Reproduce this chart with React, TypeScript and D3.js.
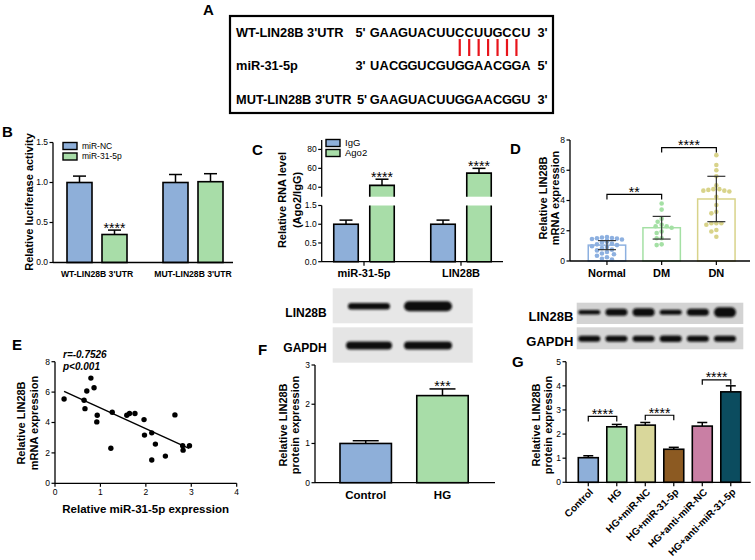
import React from 'react';
import * as d3 from 'd3';

const FONT = '"Liberation Sans", Arial, Helvetica, sans-serif';

// ---------- Panel A ----------
const aRowLabels = ["WT-LIN28B 3'UTR", 'miR-31-5p', "MUT-LIN28B 3'UTR"];
const aPrimeLeft = ["5'", "3'", "5'"];
const aPrimeRight = ["3'", "5'", "3'"];
const aSeqs = ['GAAGUACUUCCUUGCCU', 'UACGGUCGUGGAACGGA', 'GAAGUACUUGGAACGGU'];
const aPairIdx = [9, 10, 11, 12, 13, 14, 15];

// ---------- Panel B ----------
const bGroups = ["WT-LIN28B 3'UTR", "MUT-LIN28B 3'UTR"];
const bSeries = ['miR-NC', 'miR-31-5p'];
const bValues = [[1.0, 0.35], [1.0, 1.01]];
const bErrors = [[0.08, 0.055], [0.1, 0.1]];
const bSig = [['', '****'], ['', '']];
const bTicks = [0, 0.5, 1.0, 1.5];

// ---------- Panel C ----------
const cGroups = ['miR-31-5p', 'LIN28B'];
const cSeries = ['IgG', 'Ago2'];
const cValues = [[1.0, 42], [1.0, 55]];
const cErrors = [[0.11, 6.5], [0.11, 5]];
const cSig = [['', '****'], ['', '****']];
const cLowTicks = [0, 0.5, 1.0, 1.5];
const cHighTicks = [40, 60, 80];

// ---------- Panel D ----------
const dCategories = ['Normal', 'DM', 'DN'];
const dMeans = [1.05, 2.2, 4.1];
const dSD = [0.3, 0.75, 1.5];
const dNormal = [1.58, 1.55, 1.52, 1.5, 1.48, 1.45, 1.42, 1.35, 1.3, 1.28, 1.22, 1.15, 1.1, 1.05, 0.98, 0.92, 0.85, 0.75, 0.7, 0.6, 0.5, 0.45, 0.35, 0.25, 0.15, 0.1];
const dDM = [3.8, 3.4, 2.8, 2.6, 2.4, 2.3, 2.3, 2.2, 1.95, 1.85, 1.5, 1.5, 1.1, 1.05];
const dDN = [7.0, 6.35, 6.0, 5.6, 5.0, 4.75, 4.7, 4.65, 4.75, 4.65, 4.6, 4.25, 3.7, 3.25, 3.15, 2.5, 2.5, 2.4, 2.5, 1.95, 2.05, 1.6];
const dTicks = [0, 2, 4, 6, 8];
const dBrackets = [{ a: 0, b: 1, y: 4.4, label: '**' }, { a: 1, b: 2, y: 7.5, label: '****' }];

// ---------- Panel E ----------
const eX = [0.2, 0.64, 0.66, 0.7, 0.79, 0.86, 0.93, 0.92, 1.26, 1.23, 1.58, 1.64, 1.76, 1.96, 1.97, 2.13, 2.21, 2.13, 2.43, 2.64, 2.81, 2.82, 2.96];
const eY = [5.55, 5.46, 4.91, 6.07, 6.92, 6.29, 4.48, 4.04, 4.67, 2.31, 4.48, 4.59, 4.59, 4.19, 3.17, 3.32, 2.58, 1.53, 1.79, 4.5, 2.47, 2.18, 2.47];
const eFitX = [0.2, 2.95];
const eFitY = [6.05, 2.3];
const eXTicks = [0, 1, 2, 3, 4];
const eYTicks = [0, 2, 4, 6, 8];

// ---------- Panel F ----------
const fCategories = ['Control', 'HG'];
const fValues = [1.0, 2.22];
const fErrors = [0.07, 0.17];
const fSig = ['', '***'];
const fTicks = [0, 1, 2, 3];
const fBlotLanes = ['Control', 'HG'];
const fLinBand = [6.5, 10];
const fGapdhBand = [8, 8];

// ---------- Panel G ----------
const gCategories = ['Control', 'HG', 'HG+miR-NC', 'HG+miR-31-5p', 'HG+anti-miR-NC', 'HG+anti-miR-31-5p'];
const gValues = [1.02, 2.3, 2.37, 1.37, 2.33, 3.75];
const gErrors = [0.08, 0.1, 0.11, 0.08, 0.15, 0.25];
const gColors = ['#8EAFD9', '#A8DDA8', '#D9D79B', '#8C5A22', '#C97FA4', '#0B4C5F'];
const gTicks = [0, 1, 2, 3, 4, 5];
const gBrackets = [{ a: 0, b: 1, y: 2.73, label: '****' }, { a: 2, b: 3, y: 2.78, label: '****' }, { a: 4, b: 5, y: 4.25, label: '****' }];
const gLinBand = [4.5, 7, 8, 5, 7, 10];
const gGapdhBand = [6, 6, 6, 6.5, 6, 6];

const BLUE = '#8EAFD9';
const GREEN = '#A8DDA8';
const dColors = ['#8DB0E0', '#A4E0A4', '#D8D38A'];

function YAxis({ scale, ticks, x, fmt, from, to, fs = 8.5 }: any) {
  const r = scale.range();
  return (
    <g>
      <line x1={x} x2={x} y1={from ?? r[0]} y2={to ?? r[1]} stroke="#000" strokeWidth={1.3} />
      {ticks.map((t: number) => (
        <g key={t}>
          <line x1={x - 3.5} x2={x} y1={scale(t)} y2={scale(t)} stroke="#000" strokeWidth={1.2} />
          <text x={x - 5} y={scale(t)} dy="0.35em" textAnchor="end" fontSize={fs}>
            {fmt ? fmt(t) : t}
          </text>
        </g>
      ))}
    </g>
  );
}

function RotText({ x, y, text, fs = 11 }: any) {
  return (
    <text transform={`translate(${x},${y}) rotate(-90)`} textAnchor="middle" dy="0.35em" fontSize={fs} fontWeight="bold">
      {text}
    </text>
  );
}

function ErrBar({ x, y0, y1, w }: any) {
  return (
    <g stroke="#000" strokeWidth={1.5}>
      <line x1={x} x2={x} y1={y0} y2={y1} />
      <line x1={x - w / 2} x2={x + w / 2} y1={y1} y2={y1} />
    </g>
  );
}

function Stars({ x, y, text }: any) {
  return (
    <text x={x} y={y + 2.5} textAnchor="middle" fontSize={14}>
      {text}
    </text>
  );
}

function beeswarm(values: number[], y: (v: number) => number, r: number, half: number) {
  const placed: { x: number; y: number }[] = [];
  const out: { x: number; y: number }[] = new Array(values.length);
  const order = values.map((_, i) => i).sort((a, b) => values[b] - values[a]);
  for (const i of order) {
    const yy = y(values[i]);
    let chosen = 0;
    let found = false;
    for (let k = 0; k <= half * 2; k++) {
      const off = (k % 2 === 0 ? 1 : -1) * Math.ceil(k / 2);
      if (Math.abs(off) > half) break;
      const ok = placed.every(p => Math.hypot(p.x - off, p.y - yy) >= 2 * r + 0.2);
      if (ok) {
        chosen = off;
        found = true;
        break;
      }
    }
    if (!found) chosen = 0;
    const pt = { x: chosen, y: yy };
    placed.push(pt);
    out[i] = pt;
  }
  return out;
}

function PanelA() {
  const nt = d3.scaleLinear().domain([0, 17]).range([370, 530.6]);
  const rowY = [36.5, 70, 104];
  return (
    <g fontWeight="bold" fontSize={12.8}>
      <text x={203} y={15} fontSize={15}>A</text>
      <rect x={230} y={16} width={323} height={97} fill="none" stroke="#000" strokeWidth={2.2} />
      {aRowLabels.map((lab, r) => (
        <g key={lab}>
          <text x={236} y={rowY[r]}>{lab}</text>
          <text x={r === 2 ? 357 : 355.5} y={rowY[r]}>{aPrimeLeft[r]}</text>
          {aSeqs[r].split('').map((c, i) => (
            <text key={i} x={nt(i + 0.5)} y={rowY[r]} textAnchor="middle">{c}</text>
          ))}
          <text x={537.5} y={rowY[r]}>{aPrimeRight[r]}</text>
        </g>
      ))}
      {aPairIdx.map(i => (
        <line key={i} x1={nt(i + 0.5)} x2={nt(i + 0.5)} y1={39} y2={56} stroke="#E8141B" strokeWidth={2.2} />
      ))}
    </g>
  );
}

function PanelB() {
  const y = d3.scaleLinear().domain([0, 1.5]).range([262.5, 142.5]);
  const g = d3.scalePoint<string>().domain(bGroups).range([97, 193]);
  const s = d3.scaleBand<string>().domain(bSeries).range([-35, 35]).paddingInner(0.2857).paddingOuter(0.1428);
  const colors = [BLUE, GREEN];
  const fmt = d3.format('.1f');
  return (
    <g>
      <text x={2} y={137} fontSize={15} fontWeight="bold">B</text>
      <RotText x={29} y={202} text="Relative luciferase activity" />
      {bGroups.map((grp, gi) =>
        bSeries.map((ser, si) => {
          const x0 = (g(grp) as number) + (s(ser) as number);
          const w = s.bandwidth();
          const v = bValues[gi][si];
          const e = bErrors[gi][si];
          return (
            <g key={grp + ser}>
              <ErrBar x={x0 + w / 2} y0={y(v)} y1={y(v + e)} w={13} />
              <rect x={x0} y={y(v)} width={w} height={y(0) - y(v)} fill={colors[si]} stroke="#000" strokeWidth={1.6} />
              {bSig[gi][si] && <Stars x={x0 + w / 2} y={y(v + e) - 0} text={bSig[gi][si]} />}
            </g>
          );
        })
      )}
      <YAxis scale={y} ticks={bTicks} x={53} fmt={fmt} />
      <line x1={53} x2={233} y1={y(0)} y2={y(0)} stroke="#000" strokeWidth={1.3} />
      {bGroups.map(grp => (
        <text key={grp} x={g(grp)} y={277} textAnchor="middle" fontSize={8.6} fontWeight="bold">{grp}</text>
      ))}
      {bSeries.map((ser, si) => (
        <g key={ser}>
          <rect x={63} y={142.5 + si * 10.5} width={14} height={7} fill={colors[si]} stroke="#000" strokeWidth={1.4} />
          <text x={82} y={146 + si * 10.5} dy="0.35em" fontSize={8.5}>{ser}</text>
        </g>
      ))}
    </g>
  );
}

function PanelC() {
  const yLow = d3.scaleLinear().domain([0, 1.5]).range([261.7, 205.5]);
  const yHigh = d3.scaleLinear().domain([30, 90]).range([196.7, 140]);
  const g = d3.scalePoint<string>().domain(cGroups).range([364, 461]);
  const s = d3.scaleBand<string>().domain(cSeries).range([-36, 36]).paddingInner(0.32).paddingOuter(0.16);
  const colors = [BLUE, GREEN];
  const fmt = d3.format('.1f');
  const axX = 321.7;
  return (
    <g>
      <text x={252} y={155} fontSize={15} fontWeight="bold">C</text>
      <RotText x={281.7} y={200} text="Relative RNA level" />
      <RotText x={296.7} y={200} text="(Ago2/IgG)" />
      {cGroups.map((grp, gi) =>
        cSeries.map((ser, si) => {
          const x0 = (g(grp) as number) + (s(ser) as number);
          const w = s.bandwidth();
          const v = cValues[gi][si];
          const e = cErrors[gi][si];
          if (v <= 1.5) {
            return (
              <g key={grp + ser}>
                <ErrBar x={x0 + w / 2} y0={yLow(v)} y1={yLow(v + e)} w={13} />
                <rect x={x0} y={yLow(v)} width={w} height={yLow(0) - yLow(v)} fill={colors[si]} stroke="#000" strokeWidth={1.6} />
              </g>
            );
          }
          const lowTop = yLow(1.5);
          const hiBot = yHigh(30);
          return (
            <g key={grp + ser}>
              <ErrBar x={x0 + w / 2} y0={yHigh(v)} y1={yHigh(v + e)} w={13} />
              <rect x={x0} y={lowTop} width={w} height={yLow(0) - lowTop} fill={colors[si]} />
              <path d={`M${x0},${yLow(0)}V${lowTop}M${x0 + w},${lowTop}V${yLow(0)}H${x0}`} fill="none" stroke="#000" strokeWidth={1.6} />
              <rect x={x0} y={yHigh(v)} width={w} height={hiBot - yHigh(v)} fill={colors[si]} />
              <path d={`M${x0},${hiBot}V${yHigh(v)}H${x0 + w}V${hiBot}`} fill="none" stroke="#000" strokeWidth={1.6} />
              {cSig[gi][si] && <Stars x={x0 + w / 2} y={yHigh(v + e)} text={cSig[gi][si]} />}
            </g>
          );
        })
      )}
      <YAxis scale={yLow} ticks={cLowTicks} x={axX} fmt={fmt} />
      <YAxis scale={yHigh} ticks={cHighTicks} x={axX} />
      <line x1={axX} x2={503} y1={yLow(0)} y2={yLow(0)} stroke="#000" strokeWidth={1.3} />
      {cGroups.map(grp => (
        <g key={grp}>
          <line x1={g(grp)} x2={g(grp)} y1={yLow(0)} y2={yLow(0) + 4} stroke="#000" strokeWidth={1.2} />
          <text x={g(grp)} y={277} textAnchor="middle" fontSize={11} fontWeight="bold">{grp}</text>
        </g>
      ))}
      {cSeries.map((ser, si) => (
        <g key={ser}>
          <rect x={326} y={139.5 + si * 10} width={14} height={7} fill={colors[si]} stroke="#000" strokeWidth={1.4} />
          <text x={345} y={143 + si * 10} dy="0.35em" fontSize={9.5}>{ser}</text>
        </g>
      ))}
    </g>
  );
}

function PanelD() {
  const y = d3.scaleLinear().domain([0, 8]).range([261, 140]);
  const x = d3.scaleBand<string>().domain(dCategories).range([579.6, 743.7]).paddingInner(0.316).paddingOuter(0.158);
  const w = x.bandwidth();
  const pts = [dNormal, dDM, dDN];
  return (
    <g>
      <text x={510} y={154} fontSize={15} fontWeight="bold">D</text>
      <RotText x={543} y={198} text="Relative LIN28B" />
      <RotText x={555} y={198} text="mRNA expression" />
      {dCategories.map((c, i) => {
        const x0 = x(c) as number;
        const cx = x0 + w / 2;
        const sw = beeswarm(pts[i], y, 2.3, 16);
        return (
          <g key={c}>
            <rect x={x0} y={y(dMeans[i])} width={w} height={y(0) - y(dMeans[i])} fill="#fff" stroke={dColors[i]} strokeWidth={1.5} />
            {sw.map((p, k) => (
              <circle key={k} cx={cx + p.x} cy={p.y} r={2.3} fill={dColors[i]} />
            ))}
            <g stroke="#333" strokeWidth={1.2}>
              <line x1={cx} x2={cx} y1={y(dMeans[i] - dSD[i])} y2={y(dMeans[i] + dSD[i])} />
              <line x1={cx - 9} x2={cx + 9} y1={y(dMeans[i] + dSD[i])} y2={y(dMeans[i] + dSD[i])} />
              <line x1={cx - 9} x2={cx + 9} y1={y(dMeans[i] - dSD[i])} y2={y(dMeans[i] - dSD[i])} />
            </g>
            <line x1={cx} x2={cx} y1={y(0)} y2={y(0) + 4} stroke="#000" strokeWidth={1.2} />
            <text x={cx} y={277} textAnchor="middle" fontSize={11} fontWeight="bold">{c}</text>
          </g>
        );
      })}
      {dBrackets.map(b => {
        const xa = (x(dCategories[b.a]) as number) + w / 2;
        const xb = (x(dCategories[b.b]) as number) + w / 2;
        const yy = y(b.y);
        return (
          <g key={b.label + b.a}>
            <path d={`M${xa},${yy + 5}V${yy}H${xb}V${yy + 5}`} fill="none" stroke="#000" strokeWidth={1.2} />
            <Stars x={(xa + xb) / 2} y={yy} text={b.label} />
          </g>
        );
      })}
      <YAxis scale={y} ticks={dTicks} x={570} />
      <line x1={570} x2={750} y1={y(0)} y2={y(0)} stroke="#000" strokeWidth={1.3} />
    </g>
  );
}

function PanelE() {
  const x = d3.scaleLinear().domain([0, 4]).range([55, 236.7]);
  const y = d3.scaleLinear().domain([0, 8]).range([483.3, 361.7]);
  const line = d3.line<number>().x(d => x(eFitX[d])).y(d => y(eFitY[d]));
  return (
    <g>
      <text x={12} y={350} fontSize={15} fontWeight="bold">E</text>
      <RotText x={21.5} y={423} text="Relative LIN28B" />
      <RotText x={34} y={423} text="mRNA expression" />
      <text x={63} y={357.5} fontSize={10} fontWeight="bold" fontStyle="italic">r=-0.7526</text>
      <text x={63} y={369.5} fontSize={10} fontWeight="bold" fontStyle="italic">p&lt;0.001</text>
      <YAxis scale={y} ticks={eYTicks} x={55} />
      <line x1={55} x2={236.7} y1={y(0)} y2={y(0)} stroke="#000" strokeWidth={1.3} />
      {eXTicks.map(t => (
        <g key={t}>
          <line x1={x(t)} x2={x(t)} y1={y(0)} y2={y(0) + 3.5} stroke="#000" strokeWidth={1.2} />
          <text x={x(t)} y={y(0) + 12} textAnchor="middle" fontSize={8.5}>{t}</text>
        </g>
      ))}
      <text x={145.7} y={513} textAnchor="middle" fontSize={11.5} fontWeight="bold">Relative miR-31-5p expression</text>
      <path d={line([0, 1]) as string} stroke="#000" strokeWidth={1.4} fill="none" />
      {eX.map((v, i) => (
        <circle key={i} cx={x(v)} cy={y(eY[i])} r={2.7} fill="#000" />
      ))}
    </g>
  );
}

function Blot({ lanes, laneScale, bands, y0, y1, bg, bandW, label, labelX, labelY, fs }: any) {
  const cy = (y0 + y1) / 2;
  return (
    <g>
      <text x={labelX} y={labelY} textAnchor="end" fontSize={fs} fontWeight="bold">{label}</text>
      <rect x={laneScale.range()[0] - 0} y={y0} width={0} height={0} fill="none" />
      {lanes.map((l: string, i: number) => (
        <rect key={l + i} x={laneScale(l) - bandW[i] / 2} y={cy - bands[i] / 2 + 0.5} width={bandW[i]} height={bands[i]} rx={bands[i] / 2} fill="#111" filter="url(#bandBlur)" />
      ))}
    </g>
  );
}

function PanelF() {
  const y = d3.scaleLinear().domain([0, 3]).range([482.7, 365]);
  const x = d3.scaleBand<string>().domain(fCategories).range([301.6, 506.6]).paddingInner(0.33).paddingOuter(0.5);
  const w = x.bandwidth();
  const lanes = d3.scalePoint<string>().domain(fBlotLanes).range([369, 428]);
  const colors = [BLUE, GREEN];
  return (
    <g>
      <rect x={332.7} y={288.3} width={140} height={35} fill="#E7E7E7" />
      <rect x={332.7} y={327.3} width={140} height={35.4} fill="#E5E5E5" />
      <Blot lanes={fBlotLanes} laneScale={lanes} bands={fLinBand} y0={288.3} y1={323.3} bandW={[42, 48]} label="LIN28B" labelX={326.7} labelY={317} fs={12} />
      <Blot lanes={fBlotLanes} laneScale={lanes} bands={fGapdhBand} y0={327.3} y1={362.7} bandW={[46, 48]} label="GAPDH" labelX={326.7} labelY={351.5} fs={12} />
      <text x={258} y={355} fontSize={15} fontWeight="bold">F</text>
      <RotText x={283} y={425} text="Relative LIN28B" />
      <RotText x={295.5} y={425} text="protein expression" />
      {fCategories.map((c, i) => {
        const x0 = x(c) as number;
        return (
          <g key={c}>
            <ErrBar x={x0 + w / 2} y0={y(fValues[i])} y1={y(fValues[i] + fErrors[i])} w={26} />
            <rect x={x0} y={y(fValues[i])} width={w} height={y(0) - y(fValues[i])} fill={colors[i]} stroke="#000" strokeWidth={1.6} />
            {fSig[i] && <Stars x={x0 + w / 2} y={y(fValues[i] + fErrors[i])} text={fSig[i]} />}
            <text x={x0 + w / 2} y={499} textAnchor="middle" fontSize={11.5} fontWeight="bold">{c}</text>
          </g>
        );
      })}
      <YAxis scale={y} ticks={fTicks} x={315} />
      <line x1={315} x2={495} y1={y(0)} y2={y(0)} stroke="#000" strokeWidth={1.3} />
    </g>
  );
}

function PanelG() {
  const y = d3.scaleLinear().domain([0, 5]).range([482.3, 361.7]);
  const x = d3.scaleBand<string>().domain(gCategories).range([566.9, 752.15]).paddingInner(0.3).paddingOuter(0.4);
  const w = x.bandwidth();
  const lanes = d3.scalePoint<string>().domain(gCategories).range([589.3, 725]);
  return (
    <g>
      <rect x={576.7} y={302.7} width={166.6} height={21.3} fill="#D3D3D3" />
      <rect x={576.7} y={327.3} width={166.6} height={22} fill="#D6D6D6" />
      <Blot lanes={gCategories} laneScale={lanes} bands={gLinBand} y0={302.7} y1={321} bandW={gCategories.map(() => 22)} label="LIN28B" labelX={573.3} labelY={320.5} fs={13} />
      <Blot lanes={gCategories} laneScale={lanes} bands={gGapdhBand} y0={327.3} y1={349.3} bandW={gCategories.map(() => 22)} label="GAPDH" labelX={573.3} labelY={346} fs={13} />
      <text x={512} y={367} fontSize={15} fontWeight="bold">G</text>
      <RotText x={536} y={425} text="Relative LIN28B" />
      <RotText x={548} y={425} text="protein expression" />
      {gCategories.map((c, i) => {
        const x0 = x(c) as number;
        const cx = x0 + w / 2;
        return (
          <g key={c}>
            <ErrBar x={cx} y0={y(gValues[i])} y1={y(gValues[i] + gErrors[i])} w={10} />
            <rect x={x0} y={y(gValues[i])} width={w} height={y(0) - y(gValues[i])} fill={gColors[i]} stroke="#000" strokeWidth={1.6} />
            <line x1={cx} x2={cx} y1={y(0)} y2={y(0) + 4} stroke="#000" strokeWidth={1.2} />
            <text transform={`translate(${cx + 3},${y(0) + 8}) rotate(-45)`} textAnchor="end" dy="0.35em" fontSize={10} fontWeight="bold">{c}</text>
          </g>
        );
      })}
      {gBrackets.map(b => {
        const xa = (x(gCategories[b.a]) as number) + w / 2;
        const xb = (x(gCategories[b.b]) as number) + w / 2;
        const yy = y(b.y);
        return (
          <g key={b.a}>
            <path d={`M${xa},${yy + 5}V${yy}H${xb}V${yy + 5}`} fill="none" stroke="#000" strokeWidth={1.2} />
            <Stars x={(xa + xb) / 2} y={yy} text={b.label} />
          </g>
        );
      })}
      <YAxis scale={y} ticks={gTicks} x={566} />
      <line x1={566} x2={750.7} y1={y(0)} y2={y(0)} stroke="#000" strokeWidth={1.3} />
    </g>
  );
}

export default function App() {
  return (
    <svg
      width={755}
      height={560}
      viewBox="0 0 755 560"
      style={{ position: 'absolute', left: 0, top: 0, background: '#fff' }}
      fontFamily={FONT}
    >
      <defs>
        <filter id="bandBlur" x="-30%" y="-150%" width="160%" height="400%">
          <feGaussianBlur stdDeviation="1.2" />
        </filter>
      </defs>
      <rect x={0} y={0} width={755} height={560} fill="#fff" />
      <PanelA />
      <PanelB />
      <PanelC />
      <PanelD />
      <PanelE />
      <PanelF />
      <PanelG />
    </svg>
  );
}
